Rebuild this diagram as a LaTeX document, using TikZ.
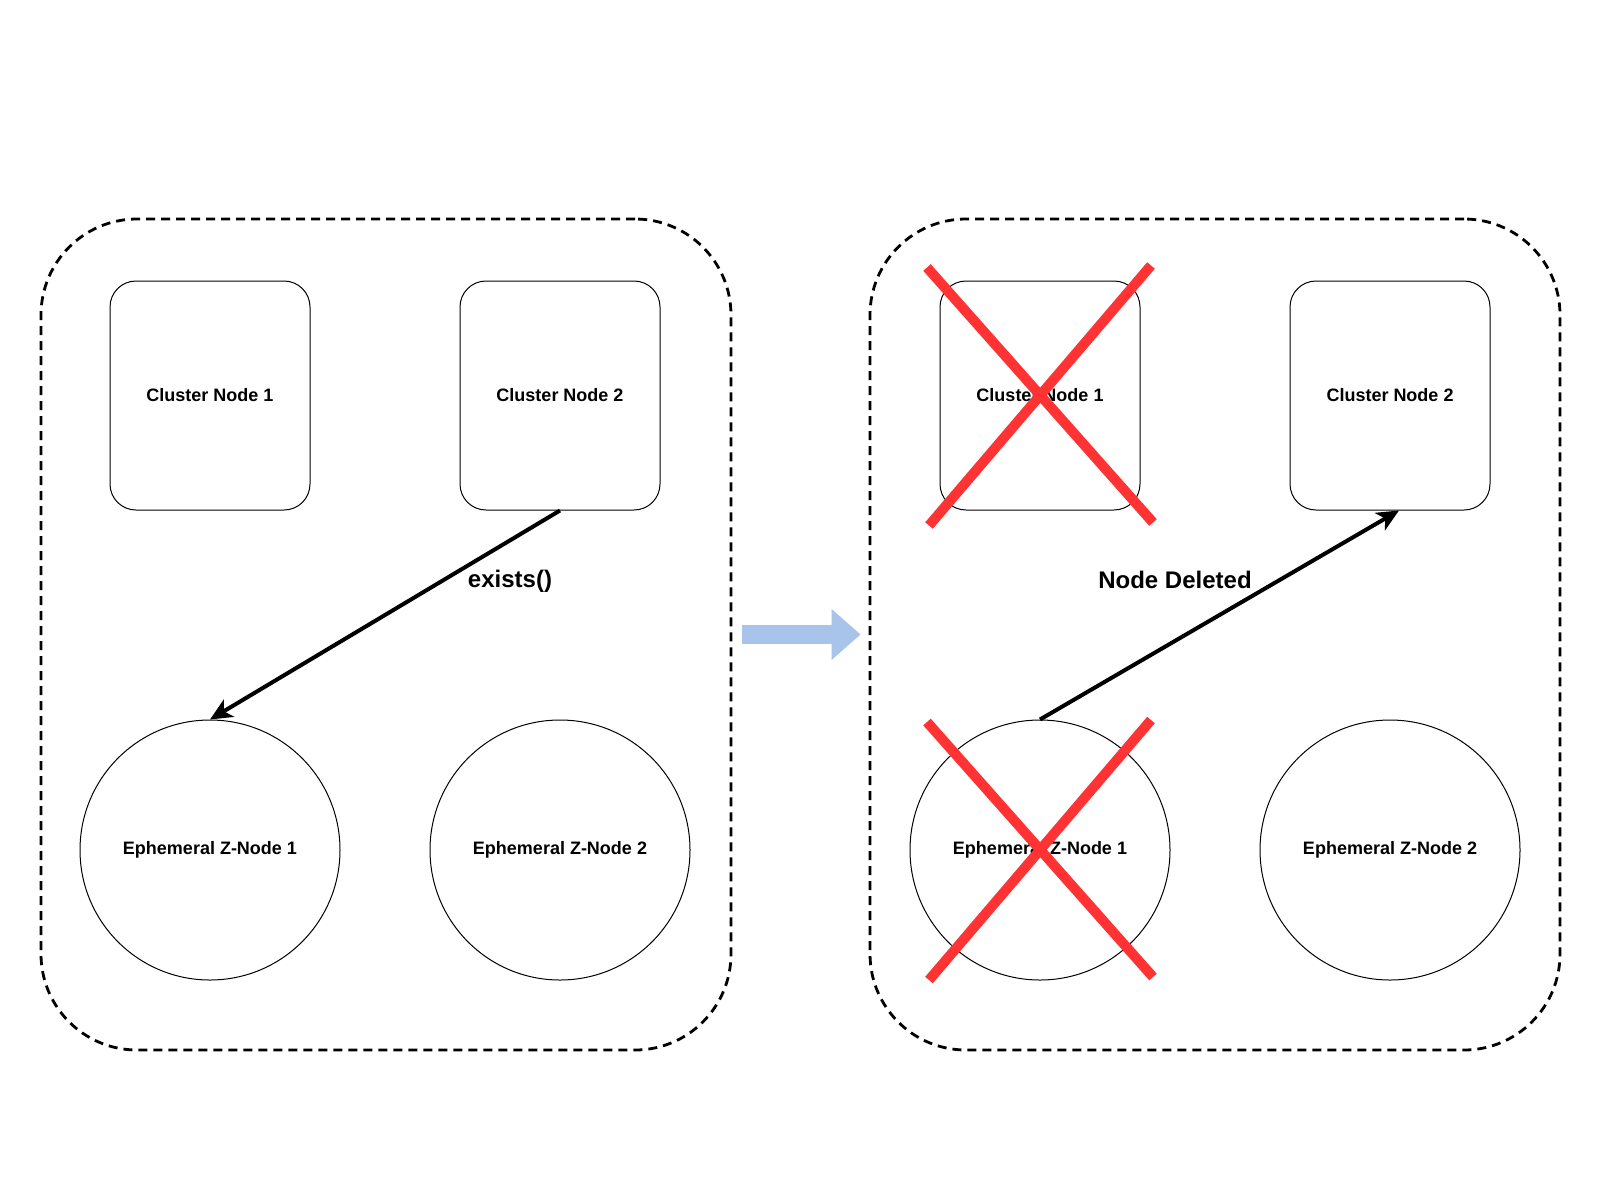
\documentclass[tikz,border=0pt]{standalone}
\usepackage{fontspec}
\setmainfont{Liberation Sans}
\usetikzlibrary{arrows.meta}

\definecolor{xred}{HTML}{FF3333}
\definecolor{flowblue}{HTML}{A9C4EB}

\tikzset{
  group/.style={draw, dashed, dash pattern=on 4.5pt off 3pt, line width=1.4pt, rounded corners=48pt,
    minimum width=345pt, minimum height=415.5pt, inner sep=0pt},
  cnode/.style={draw, line width=0.5pt, rounded corners=13pt, minimum width=100pt,
    minimum height=114.5pt, inner sep=0pt, font=\fontsize{9}{11}\selectfont\bfseries},
  znode/.style={draw, circle, line width=0.5pt, minimum size=130pt, inner sep=0pt,
    font=\fontsize{9}{11}\selectfont\bfseries},
  call/.style={line width=2pt, -{Stealth[length=11pt,width=10pt,inset=3pt]}},
  cross/.style={draw=xred, line width=5pt},
  lbl/.style={font=\fontsize{12}{14}\selectfont\bfseries},
}

\begin{document}
\begin{tikzpicture}[x=0.5pt,y=-0.5pt]

\fill[white] (0,0) rectangle (1600,1200);
\useasboundingbox (0,0) rectangle (1600,1200);

% left group: before
\node[group] (lgrp) at (386,634.5) {};
\node[cnode] (lcn1) at (210,395.5) {Cluster Node 1};
\node[cnode] (lcn2) at (560,395.5) {Cluster Node 2};
\node[znode] (lez1) at (210,850) {Ephemeral Z-Node 1};
\node[znode] (lez2) at (560,850) {Ephemeral Z-Node 2};

\draw[call] (lcn2.south) -- (lez1.north);
\node[lbl] (lexists) at (510,581) {exists()};

% right group: after
\node[group] (rgrp) at (1215,634.5) {};
\node[cnode] (rcn1) at (1040,395.5) {Cluster Node 1};
\node[cnode] (rcn2) at (1390,395.5) {Cluster Node 2};
\node[znode] (rez1) at (1040,850) {Ephemeral Z-Node 1};
\node[znode] (rez2) at (1390,850) {Ephemeral Z-Node 2};

\draw[call] (rez1.north) -- ([xshift=4.5pt]rcn2.south);
\node[lbl] (rdeleted) at (1175,580) {Node Deleted};

% transition between the two states
\draw[flowblue, line width=9.5pt, -{Triangle[length=14.5pt,width=24.5pt]}]
  ([xshift=5pt]lgrp.east) -- ([xshift=-4pt]rgrp.west);

% crossed out nodes
\foreach \n in {rcn1,rez1}{
  \draw[cross] ([shift={(-113,-128)}]\n.center) -- ([shift={(113,127)}]\n.center);
  \draw[cross] ([shift={(111,-130)}]\n.center) -- ([shift={(-111,130)}]\n.center);
}

\end{tikzpicture}
\end{document}
